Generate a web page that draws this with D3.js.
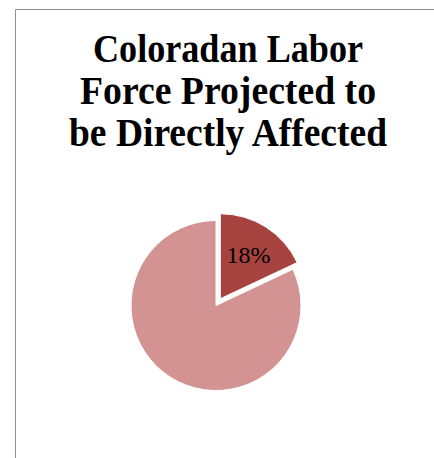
<!DOCTYPE html>
<html>
<head>
<meta charset="utf-8">
<script src="https://cdn.jsdelivr.net/npm/d3@7"></script>
<style>
  html, body { margin: 0; padding: 0; background: #fff; }
  svg { display: block; }
</style>
</head>
<body>
<svg id="chart" width="434" height="458"></svg>
<script>
const titleLines = ['Coloradan Labor', 'Force Projected to', 'be Directly Affected'];
const titleWidths = [270, 296, 318];
const categories = ['Directly affected', 'Not directly affected'];
const values = [18, 82];
const colors = ['#A6433F', '#D29392'];

const svg = d3.select('#chart');

// chart frame (only left and top edges fall inside the window)
svg.append('path')
  .attr('d', 'M15.5,458 L15.5,9.5 L434,9.5')
  .attr('fill', 'none')
  .attr('stroke', '#8f8f8f')
  .attr('stroke-width', 1);

svg.append('g')
  .selectAll('text')
  .data(titleLines)
  .join('text')
  .attr('x', 228)
  .attr('y', (d, i) => 62 + i * 42)
  .attr('text-anchor', 'middle')
  .attr('font-family', '"Liberation Serif", "DejaVu Serif", serif')
  .attr('font-weight', 'bold')
  .attr('font-size', 39)
  .attr('textLength', (d, i) => titleWidths[i])
  .attr('lengthAdjust', 'spacingAndGlyphs')
  .attr('fill', '#000')
  .text(d => d);

const cx = 216, cy = 305.5, radius = 85, explode = 8;

const pie = d3.pie().sort(null).value(d => d);
const arcs = pie(values);
const arc = d3.arc().innerRadius(0).outerRadius(radius);
const labelArc = d3.arc().innerRadius(radius * 0.62).outerRadius(radius * 0.62);

const offset = (d, i) => {
  if (i !== 0) return [0, 0];
  const a = (d.startAngle + d.endAngle) / 2;
  return [Math.sin(a) * explode, -Math.cos(a) * explode];
};

const g = svg.append('g').attr('transform', `translate(${cx},${cy})`);

const slice = g.selectAll('g.slice')
  .data(arcs)
  .join('g')
  .attr('class', 'slice')
  .attr('transform', (d, i) => `translate(${offset(d, i)})`);

slice.append('path')
  .attr('d', arc)
  .attr('fill', (d, i) => colors[i])
  .attr('stroke', '#fff')
  .attr('stroke-width', 1);

slice.filter((d, i) => i === 0)
  .append('text')
  .attr('transform', d => `translate(${labelArc.centroid(d)})`)
  .attr('text-anchor', 'middle')
  .attr('dy', '0.35em')
  .attr('font-family', '"Liberation Serif", "DejaVu Serif", serif')
  .attr('font-size', 24)
  .attr('fill', '#000')
  .text(d => d.value + '%');
</script>
</body>
</html>
